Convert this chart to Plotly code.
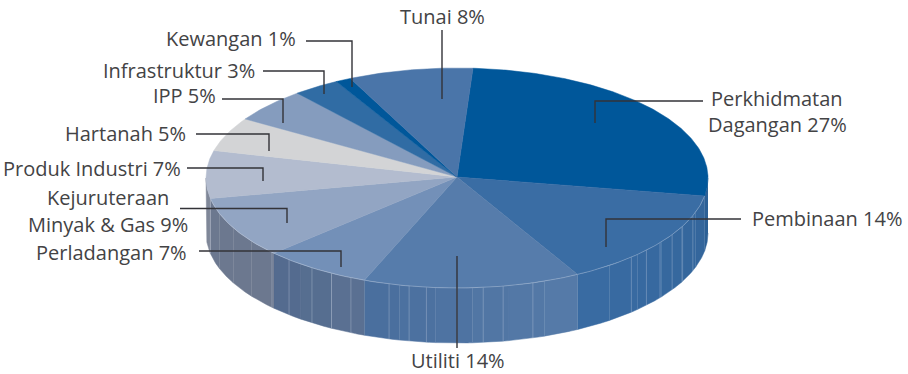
import numpy as np
import plotly.graph_objects as go

# ---- data -------------------------------------------------------------
categories = ["Perkhidmatan\nDagangan", "Pembinaan", "Utiliti", "Perladangan",
              "Kejuruteraan\nMinyak & Gas", "Produk Industri", "Hartanah", "IPP",
              "Infrastruktur", "Kewangan", "Tunai"]
printed_pct = [27, 14, 14, 7, 9, 7, 5, 5, 3, 1, 8]
shares = [26.6, 14.4, 14, 7, 9, 7, 5, 5, 3, 1, 8]
top_colors = ["#00579a", "#3a6da4", "#567cab", "#7390b8", "#92a5c3", "#b3bccf",
              "#d3d4d6", "#859cbe", "#306ca4", "#00579a", "#4a75a9"]
side_from = ["#2c6096", "#33659b", "#567ba9", "#5b7193", "#6c788f", "#7f8798",
             None, None, None, None, None]
side_to = ["#2c6096", "#3a6ca3", "#496e9d", "#526a8e", "#6c788f", "#7f8798",
           None, None, None, None, None]
rib_angles = [110, 116, 121, 126, 131, 136, 162.4, 169.4, 174, 180, 187, 191, 195.7,
              205, 210, 215.3, 222, 227.5, 259.3]

# ---- layout constants --------------------------------------------------
CX, CY, RX, RY, DEPTH, START = 457, 178, 251, 110, 55, 3.65
APEX = (457, 177)


def rim(t):
    t = np.radians(t)
    return CX + RX * np.sin(t), CY - RY * np.cos(t)


def mix(a, b, f):
    ca = [int(a[i:i + 2], 16) for i in (1, 3, 5)]
    cb = [int(b[i:i + 2], 16) for i in (1, 3, 5)]
    return "#%02x%02x%02x" % tuple(round(x + (y - x) * f) for x, y in zip(ca, cb))


edges = START + np.concatenate([[0], np.cumsum(shares)]) * 3.6
fig = go.Figure()


def poly(xs, ys, color):
    fig.add_trace(go.Scatter(x=xs, y=ys, mode="lines", fill="toself", fillcolor=color,
                             line=dict(color=color, width=0.5), hoverinfo="skip",
                             showlegend=False))


# side wall: only the front half of the disc (90..270 degrees) shows
for i in range(len(shares)):
    a, b = max(edges[i], 90), min(edges[i + 1], 270)
    if a >= b or side_from[i] is None:
        continue
    n = max(1, int((b - a) / 8))
    steps = np.linspace(a, b, n + 1)
    for k in range(n):
        t = np.linspace(steps[k], steps[k + 1], 24)
        x, y = rim(t)
        poly(np.concatenate([x, x[::-1]]), np.concatenate([y, (y + DEPTH)[::-1]]),
             mix(side_from[i], side_to[i], (k + 0.5) / n))

# thin light ribs on the wall
rx, ry = [], []
for t in rib_angles:
    x, y = rim(t)
    rx += [x, x, None]
    ry += [y, y + DEPTH, None]
fig.add_trace(go.Scatter(x=rx, y=ry, mode="lines", hoverinfo="skip", showlegend=False,
                         line=dict(color="rgba(205,215,230,0.4)", width=0.8)))

# top face
for i in range(len(shares)):
    t = np.linspace(edges[i], edges[i + 1], max(4, int((edges[i + 1] - edges[i]) * 2)))
    x, y = rim(t)
    poly(np.concatenate([[APEX[0]], x, [APEX[0]]]),
         np.concatenate([[APEX[1]], y, [APEX[1]]]), top_colors[i])

# faint highlight along the front rim
t = np.linspace(edges[1], edges[5], 200)
x, y = rim(t)
fig.add_trace(go.Scatter(x=x, y=y, mode="lines", hoverinfo="skip", showlegend=False,
                         line=dict(color="rgba(220,228,240,0.4)", width=0.8)))

# leader lines
leaders = [
    ([703, 595, 595], [101, 101, 123]),
    ([741, 606, 606], [219, 219, 247]),
    ([457, 457], [256, 348]),
    ([199, 341, 341], [251, 251, 267]),
    ([180, 287, 287], [208.5, 208.5, 223]),
    ([187, 263, 263], [168, 168, 181]),
    ([196, 269, 269], [134, 134, 151]),
    ([222, 283, 283], [99, 99, 123]),
    ([263, 324, 324], [71, 71, 94]),
    ([306, 352, 352], [41, 41, 87]),
    ([442, 442], [30, 99]),
]
for lx, ly in leaders:
    fig.add_trace(go.Scatter(x=lx, y=ly, mode="lines", hoverinfo="skip", showlegend=False,
                             line=dict(color="#333338", width=1.4)))

# labels: (category index, x, anchor, y of each line)
label_pos = [
    (0, 777, "center", [98, 124]),
    (1, 750, "left", [218]),
    (2, 458, "center", [360.5]),
    (3, 189, "right", [252]),
    (4, 108, "center", [197, 224]),
    (5, 183, "right", [168]),
    (6, 188, "right", [133]),
    (7, 218, "right", [95]),
    (8, 257, "right", [70]),
    (9, 298, "right", [38]),
    (10, 442, "center", [16]),
]
for idx, lx, anchor, ys in label_pos:
    lines = (categories[idx] + " %d%%" % printed_pct[idx]).split("\n")
    for text, ly in zip(lines, ys):
        fig.add_annotation(x=lx, y=ly, text=text, showarrow=False, xanchor=anchor,
                           yanchor="middle", xref="x", yref="y",
                           font=dict(family="Open Sans", size=20, color="#434345"))

fig.update_layout(width=908, height=374, margin=dict(l=0, r=0, t=0, b=0),
                  paper_bgcolor="white", plot_bgcolor="white", showlegend=False,
                  xaxis=dict(range=[0, 908], visible=False, fixedrange=True),
                  yaxis=dict(range=[374, 0], visible=False, fixedrange=True))
fig.write_html("out.html", config=dict(displayModeBar=False),
               post_script="document.body.style.margin='0';")
